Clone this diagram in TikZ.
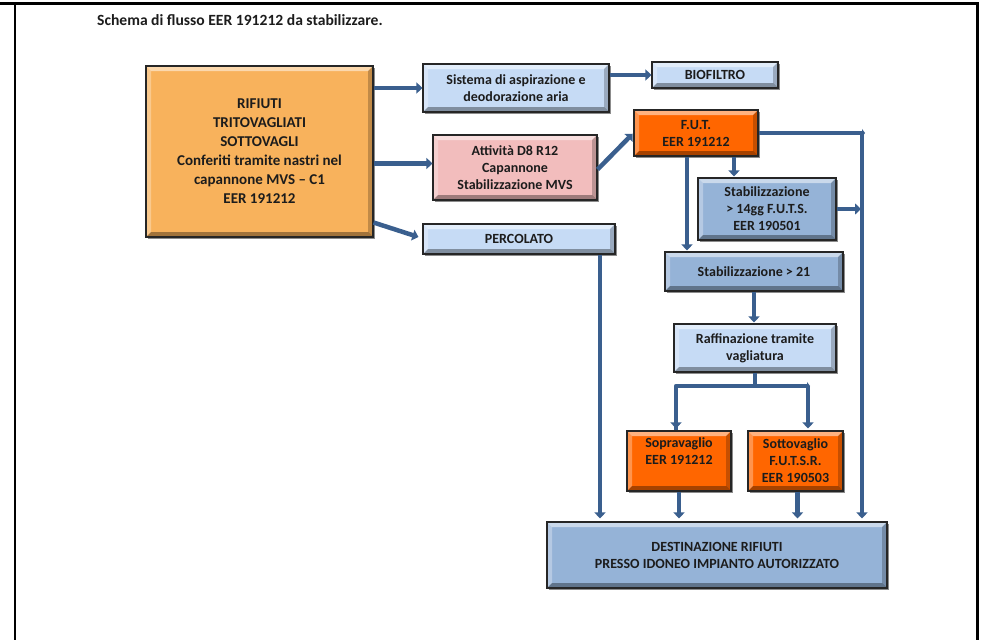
\documentclass[tikz,border=0pt]{standalone}
\usepackage{fontspec}
\setmainfont{Carlito}
\usetikzlibrary{arrows.meta,shadows}

\definecolor{sandorange}{HTML}{F8B25C}
\definecolor{paleblue}{HTML}{C6DBF5}
\definecolor{midblue}{HTML}{95B3D7}
\definecolor{palepink}{HTML}{F2BDBD}
\definecolor{hotorange}{HTML}{FF6600}
\definecolor{flowblue}{HTML}{3A5F8E}
\definecolor{inkdark}{HTML}{1C1C1C}

\tikzset{
  bevelbox/.style={
    draw=black!85, line width=1.1pt, fill=#1, inner sep=2pt,
    text=inkdark, align=center, font=\bfseries\fontsize{14}{17}\selectfont,
    drop shadow={shadow xshift=1.6pt, shadow yshift=-1.6pt, opacity=0.45, fill=black},
    path picture={
      \fill[white, opacity=0.5]
        (path picture bounding box.north west) -- (path picture bounding box.north east)
        -- ([shift={(-5pt,-5pt)}]path picture bounding box.north east)
        -- ([shift={(5pt,-5pt)}]path picture bounding box.north west) -- cycle;
      \fill[white, opacity=0.3]
        (path picture bounding box.north west)
        -- ([shift={(5pt,-5pt)}]path picture bounding box.north west)
        -- ([shift={(5pt,5pt)}]path picture bounding box.south west)
        -- (path picture bounding box.south west) -- cycle;
      \fill[black, opacity=0.35]
        (path picture bounding box.south west) -- (path picture bounding box.south east)
        -- ([shift={(-5pt,5pt)}]path picture bounding box.south east)
        -- ([shift={(5pt,5pt)}]path picture bounding box.south west) -- cycle;
      \fill[black, opacity=0.22]
        (path picture bounding box.north east)
        -- (path picture bounding box.south east)
        -- ([shift={(-5pt,5pt)}]path picture bounding box.south east)
        -- ([shift={(-5pt,-5pt)}]path picture bounding box.north east) -- cycle;
    }
  },
  flow/.style={draw=flowblue, line width=4.5pt,
    -{Triangle[width=11pt,length=6pt]}},
  flowline/.style={draw=flowblue, line width=4.5pt},
  frameline/.style={line width=2.6pt, black}
}

\begin{document}
\begin{tikzpicture}[x=1pt, y=-1pt]
  \useasboundingbox (0,0) rectangle (982,640);

  % page frame
  \draw[frameline] (0,3.5) -- (979,3.5);
  \draw[frameline] (15,3.5) -- (15,640);
  \draw[frameline] (977.5,3.5) -- (977.5,640);

  % heading
  \node[font=\bfseries\fontsize{15.6}{18}\selectfont, text=inkdark, anchor=west, inner sep=0pt]
    (title) at (97,20) {Schema di flusso EER 191212 da stabilizzare.};

  % process boxes
  \node[bevelbox=sandorange, minimum width=227, minimum height=171,
        font=\bfseries\fontsize{15}{19}\selectfont]
    (src) at (259.5,151.5) {RIFIUTI\\TRITOVAGLIATI\\SOTTOVAGLI\\Conferiti tramite nastri nel\\capannone MVS -- C1\\EER 191212};
  \node[bevelbox=paleblue, minimum width=186, minimum height=48]
    (asp) at (516,88) {Sistema di aspirazione e\\deodorazione aria};
  \node[bevelbox=paleblue, minimum width=126, minimum height=26]
    (bio) at (715,75) {BIOFILTRO};
  \node[bevelbox=palepink, minimum width=164, minimum height=65]
    (att) at (515,167.5) {Attività D8 R12\\Capannone\\Stabilizzazione MVS};
  \node[bevelbox=paleblue, minimum width=192, minimum height=30]
    (perc) at (519,239) {PERCOLATO};
  \node[bevelbox=hotorange, minimum width=124, minimum height=46]
    (fut) at (696,133) {F.U.T.\\EER 191212};
  \node[bevelbox=midblue, minimum width=138, minimum height=62]
    (s14) at (767,209) {Stabilizzazione\\> 14gg F.U.T.S.\\EER 190501};
  \node[bevelbox=midblue, minimum width=178, minimum height=39]
    (s21) at (754,271.5) {Stabilizzazione > 21};
  \node[bevelbox=paleblue, minimum width=162, minimum height=48]
    (raf) at (755,348) {Raffinazione tramite\\vagliatura};
  \node[bevelbox=hotorange, minimum width=104, minimum height=60]
    (sopra) at (679,461) {Sopravaglio\\EER 191212\\[2pt]};
  \node[bevelbox=hotorange, minimum width=95, minimum height=60]
    (sotto) at (795.5,461) {Sottovaglio\\F.U.T.S.R.\\EER 190503};
  \node[bevelbox=midblue, minimum width=340, minimum height=66]
    (dest) at (717,555) {DESTINAZIONE RIFIUTI\\PRESSO IDONEO IMPIANTO AUTORIZZATO};

  % junction points of the bent connectors
  \coordinate (rail) at (862,133);
  \coordinate (split) at (755,386);
  \coordinate (splitR) at (808,386);

  % connectors
  \draw[flow] (src.east |- asp.west) -- (asp.west);
  \draw[flow] (src.east |- att.west) ++(0,-4) -- ([yshift=4pt]att.west);
  \draw[flow] ([yshift=-71pt]src.east) -- ([shift={(-4pt,2pt)}]perc.west);
  \draw[flow] (asp.east |- bio.west) -- (bio.west);
  \draw[flow, shorten >=1pt] ([yshift=-2pt]att.east) -- (fut.west);

  \draw[flow, -{Triangle[width=8pt,length=3pt]}] (fut.east) -- ([xshift=3pt]rail);
  \draw[flow, shorten >=3pt] (rail) -- (rail |- dest.north);
  \draw[flow, shorten >=1pt] (s14.east) -- (s14.east -| rail);

  \draw[flow, shorten >=1pt] ([xshift=-9pt]fut.south) -- ([xshift=-9pt]fut.south |- s21.north);
  \draw[flow, shorten >=1pt] ([xshift=38pt]fut.south) -- ([xshift=38pt]fut.south |- s14.north);
  \draw[flow, shorten >=1pt] (s21.south) -- (s21.south |- raf.north);

  \draw[flow, -{Triangle[width=8pt,length=3pt]}] (raf.south) -- ([yshift=-1pt]split);
  \draw[flowline, line join=round] (split) -| ([xshift=-3pt]sopra.north);
  \draw[flow, shorten >=2pt] ([xshift=-3pt]sopra.north |- split) -- ([xshift=-3pt]sopra.north);
  \draw[flow, -{Triangle[width=8pt,length=3pt]}] (split) -- ([xshift=2pt]splitR);
  \draw[flow, shorten >=2pt] (splitR) -- (splitR |- sotto.north);

  \draw[flow, shorten >=3pt] (sopra.south) -- (sopra.south |- dest.north);
  \draw[flow, shorten >=3pt] ([xshift=2pt]sotto.south) -- ([xshift=2pt]sotto.south |- dest.north);
  \draw[flow, shorten >=3pt] ([xshift=81pt]perc.south) -- ([xshift=81pt]perc.south |- dest.north);
\end{tikzpicture}
\end{document}
